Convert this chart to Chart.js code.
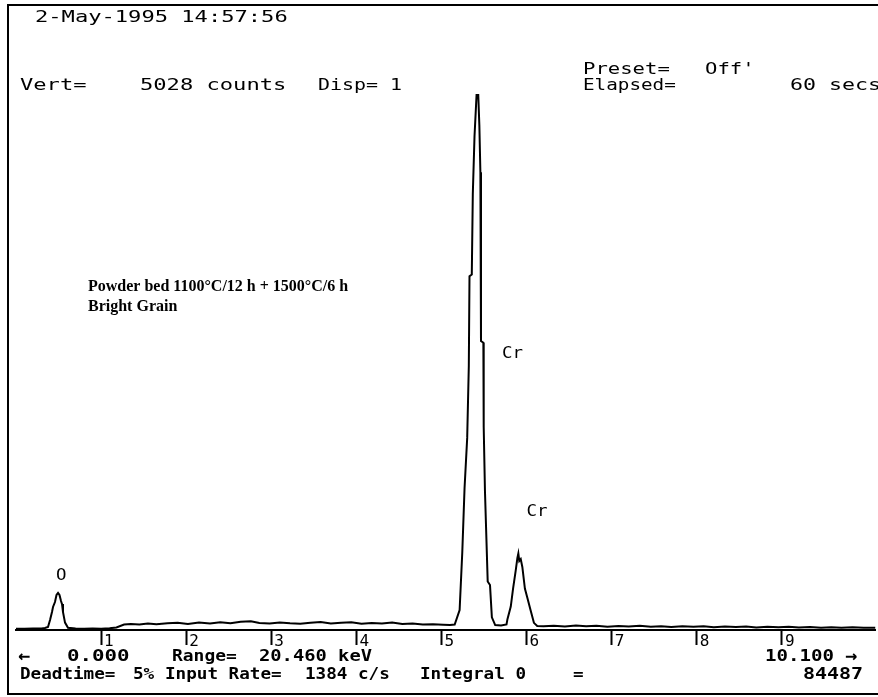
<!DOCTYPE html>
<html>
<head>
<meta charset="utf-8">
<script src="https://cdn.jsdelivr.net/npm/chart.js@4/dist/chart.umd.min.js"></script>
<style>
  html, body { margin: 0; padding: 0; background: #fff; }
  #wrap { width: 878px; height: 697px; position: relative; }
</style>
</head>
<body>
<div id="wrap"><canvas id="spectrum"></canvas></div>
<script>
// EDS spectrum, energy in keV vs counts
const energyKeV = [
  0.00, 0.10, 0.20, 0.30, 0.34, 0.376, 0.40, 0.423, 0.435, 0.458, 0.476, 0.494, 0.511, 0.529, 0.541, 0.552, 0.576, 0.611,
  0.70, 0.80, 0.90, 1.00, 1.10, 1.18, 1.27, 1.35, 1.45, 1.55, 1.65, 1.78, 1.90, 2.02, 2.15, 2.28, 2.40, 2.52, 2.64, 2.76,
  2.86, 2.98, 3.10, 3.22, 3.34, 3.46, 3.58, 3.70, 3.82, 3.94, 4.06, 4.18, 4.30, 4.42, 4.54, 4.66, 4.78, 4.90, 5.02, 5.10,
  5.155, 5.213, 5.244, 5.271, 5.302, 5.321, 5.329, 5.356, 5.368, 5.388, 5.412, 5.432, 5.445, 5.457, 5.464, 5.492, 5.496,
  5.511, 5.543, 5.570, 5.592, 5.631, 5.70, 5.764,
  5.775, 5.814, 5.841, 5.872, 5.892, 5.903, 5.914, 5.931, 5.950, 5.980, 6.008, 6.047, 6.086, 6.125,
  6.20, 6.32, 6.45, 6.58, 6.70, 6.82, 6.95, 7.08, 7.20, 7.33, 7.46, 7.58, 7.70, 7.83, 7.96, 8.08, 8.20, 8.33, 8.46, 8.58,
  8.70, 8.83, 8.96, 9.08, 9.20, 9.33, 9.46, 9.58, 9.70, 9.83, 9.96, 10.10
];
const counts = [
  10, 10, 12, 12, 16, 24, 81, 146, 187, 227, 284, 300, 284, 235, 210, 146, 60, 18,
  12, 10, 12, 10, 14, 20, 44, 48, 44, 52, 46, 54, 58, 48, 60, 52, 62, 54, 66, 70,
  56, 52, 60, 54, 50, 58, 64, 52, 58, 62, 50, 56, 52, 60, 48, 52, 44, 46, 42, 40,
  44, 161, 626, 1152, 1558, 2141, 2869, 2883, 3538, 4004, 4339, 4339, 4091, 3713, 2344, 2330, 1646,
  1122, 394, 365, 103, 40, 36, 45,
  88, 190, 336, 481, 584, 620, 560, 575, 511, 336, 263, 161, 58, 32,
  30, 34, 28, 36, 30, 34, 26, 32, 28, 34, 26, 30, 24, 30, 26, 30, 22, 28, 24, 28,
  20, 26, 22, 26, 20, 24, 18, 22, 18, 22, 18, 18
];
const tickValues = [1, 2, 3, 4, 5, 6, 7, 8, 9];
const tickLabels = ['1', '2', '3', '4', '5', '6', '7', '8', '9'];
const fullScale = 5028;

const peakNames = ['O', 'Cr', 'Cr'];
const peakKeV = [0.47, 5.71, 6.00];
const peakCounts = [440, 2240, 960];

const MONO = '"DejaVu Sans Mono", monospace';

// terminal text: one glyph per cell, glyph stretched to fill the cell
function mono(ctx, str, x, y, cw) {
  const adv = ctx.measureText('M').width;
  const sx = cw / adv;
  for (let i = 0; i < str.length; i++) {
    ctx.save();
    ctx.translate(x + i * cw, y);
    ctx.scale(sx, 1);
    ctx.fillText(str[i], 0, 0);
    ctx.restore();
  }
}

const screenText = {
  id: 'screenText',
  afterDraw(chart) {
    const ctx = chart.ctx;
    const xs = chart.scales.x, ys = chart.scales.y;
    ctx.save();
    ctx.fillStyle = '#000';
    ctx.strokeStyle = '#000';

    // frame
    ctx.lineWidth = 2;
    ctx.beginPath();
    ctx.moveTo(878, 5);
    ctx.lineTo(8, 5);
    ctx.lineTo(8, 694);
    ctx.lineTo(878, 694);
    ctx.stroke();

    ctx.textAlign = 'left';
    ctx.textBaseline = 'middle';

    // header
    ctx.font = '16px ' + MONO;
    mono(ctx, '2-May-1995 14:57:56', 35, 18, 13.3);
    mono(ctx, 'Vert=', 20, 86, 13.3);
    mono(ctx, '5028 counts', 140, 86, 13.3);
    mono(ctx, 'Disp= 1', 318, 86, 12);
    mono(ctx, 'Preset=', 583, 70, 12.4);
    mono(ctx, "Off'", 705, 70, 12.4);
    mono(ctx, 'Elapsed=', 583, 86, 11.6);
    mono(ctx, '60 secs', 790, 86, 13);

    // footer
    ctx.font = 'bold 16px ' + MONO;
    mono(ctx, '0.000', 67, 657, 12.5);
    mono(ctx, 'Range=', 172, 657, 10.8);
    mono(ctx, '20.460 keV', 259, 657, 11.3);
    mono(ctx, '10.100', 765, 657, 11.5);

    mono(ctx, 'Deadtime=', 20, 675, 10.6);
    mono(ctx, '5%', 133, 675, 10.6);
    mono(ctx, 'Input Rate=', 165, 675, 10.6);
    mono(ctx, '1384 c/s', 305, 675, 10.6);
    mono(ctx, 'Integral 0', 420, 675, 10.6);
    mono(ctx, '=', 573, 675, 10.6);
    mono(ctx, '84487', 803, 675, 12);

    ctx.font = 'bold 20px ' + MONO;
    ctx.fillText('\u2190', 18, 657);
    ctx.fillText('\u2192', 845, 657);

    // peak identifications
    ctx.font = '16px ' + MONO;
    peakNames.forEach((name, i) => {
      mono(ctx, name, xs.getPixelForValue(peakKeV[i]), ys.getPixelForValue(peakCounts[i]), 10.5);
    });

    // sample note
    ctx.font = 'bold 16px "Liberation Serif", "Times New Roman", serif';
    ctx.fillText('Powder bed 1100\u00B0C/12 h + 1500\u00B0C/6 h', 88, 287);
    ctx.fillText('Bright Grain', 88, 307);
    ctx.restore();
  }
};

new Chart(document.getElementById('spectrum'), {
  type: 'line',
  data: {
    datasets: [{
      data: energyKeV.map((e, i) => ({ x: e, y: counts[i] })),
      borderColor: '#000',
      borderWidth: 2,
      pointRadius: 0,
      tension: 0,
      fill: false
    }]
  },
  options: {
    responsive: true,
    maintainAspectRatio: false,
    animation: false,
    layout: { padding: { left: 16, right: 2.5, top: 10, bottom: 0 } },
    plugins: { legend: { display: false }, tooltip: { enabled: false } },
    scales: {
      x: {
        type: 'linear',
        min: 0,
        max: 10.1,
        afterBuildTicks: a => { a.ticks = tickValues.map(v => ({ value: v })); },
        afterFit: s => { s.height = 67; },
        border: { display: true, color: '#000', width: 2 },
        grid: { drawOnChartArea: false, drawTicks: true, tickLength: 15, tickWidth: 2, tickColor: '#000' },
        ticks: {
          align: 'start',
          labelOffset: 3,
          padding: -13,
          autoSkip: false,
          maxRotation: 0,
          color: '#000',
          font: { family: MONO, size: 16 },
          callback: v => tickLabels[tickValues.indexOf(v)]
        }
      },
      y: { display: false, min: 0, max: fullScale }
    }
  },
  plugins: [screenText]
});
</script>
</body>
</html>
